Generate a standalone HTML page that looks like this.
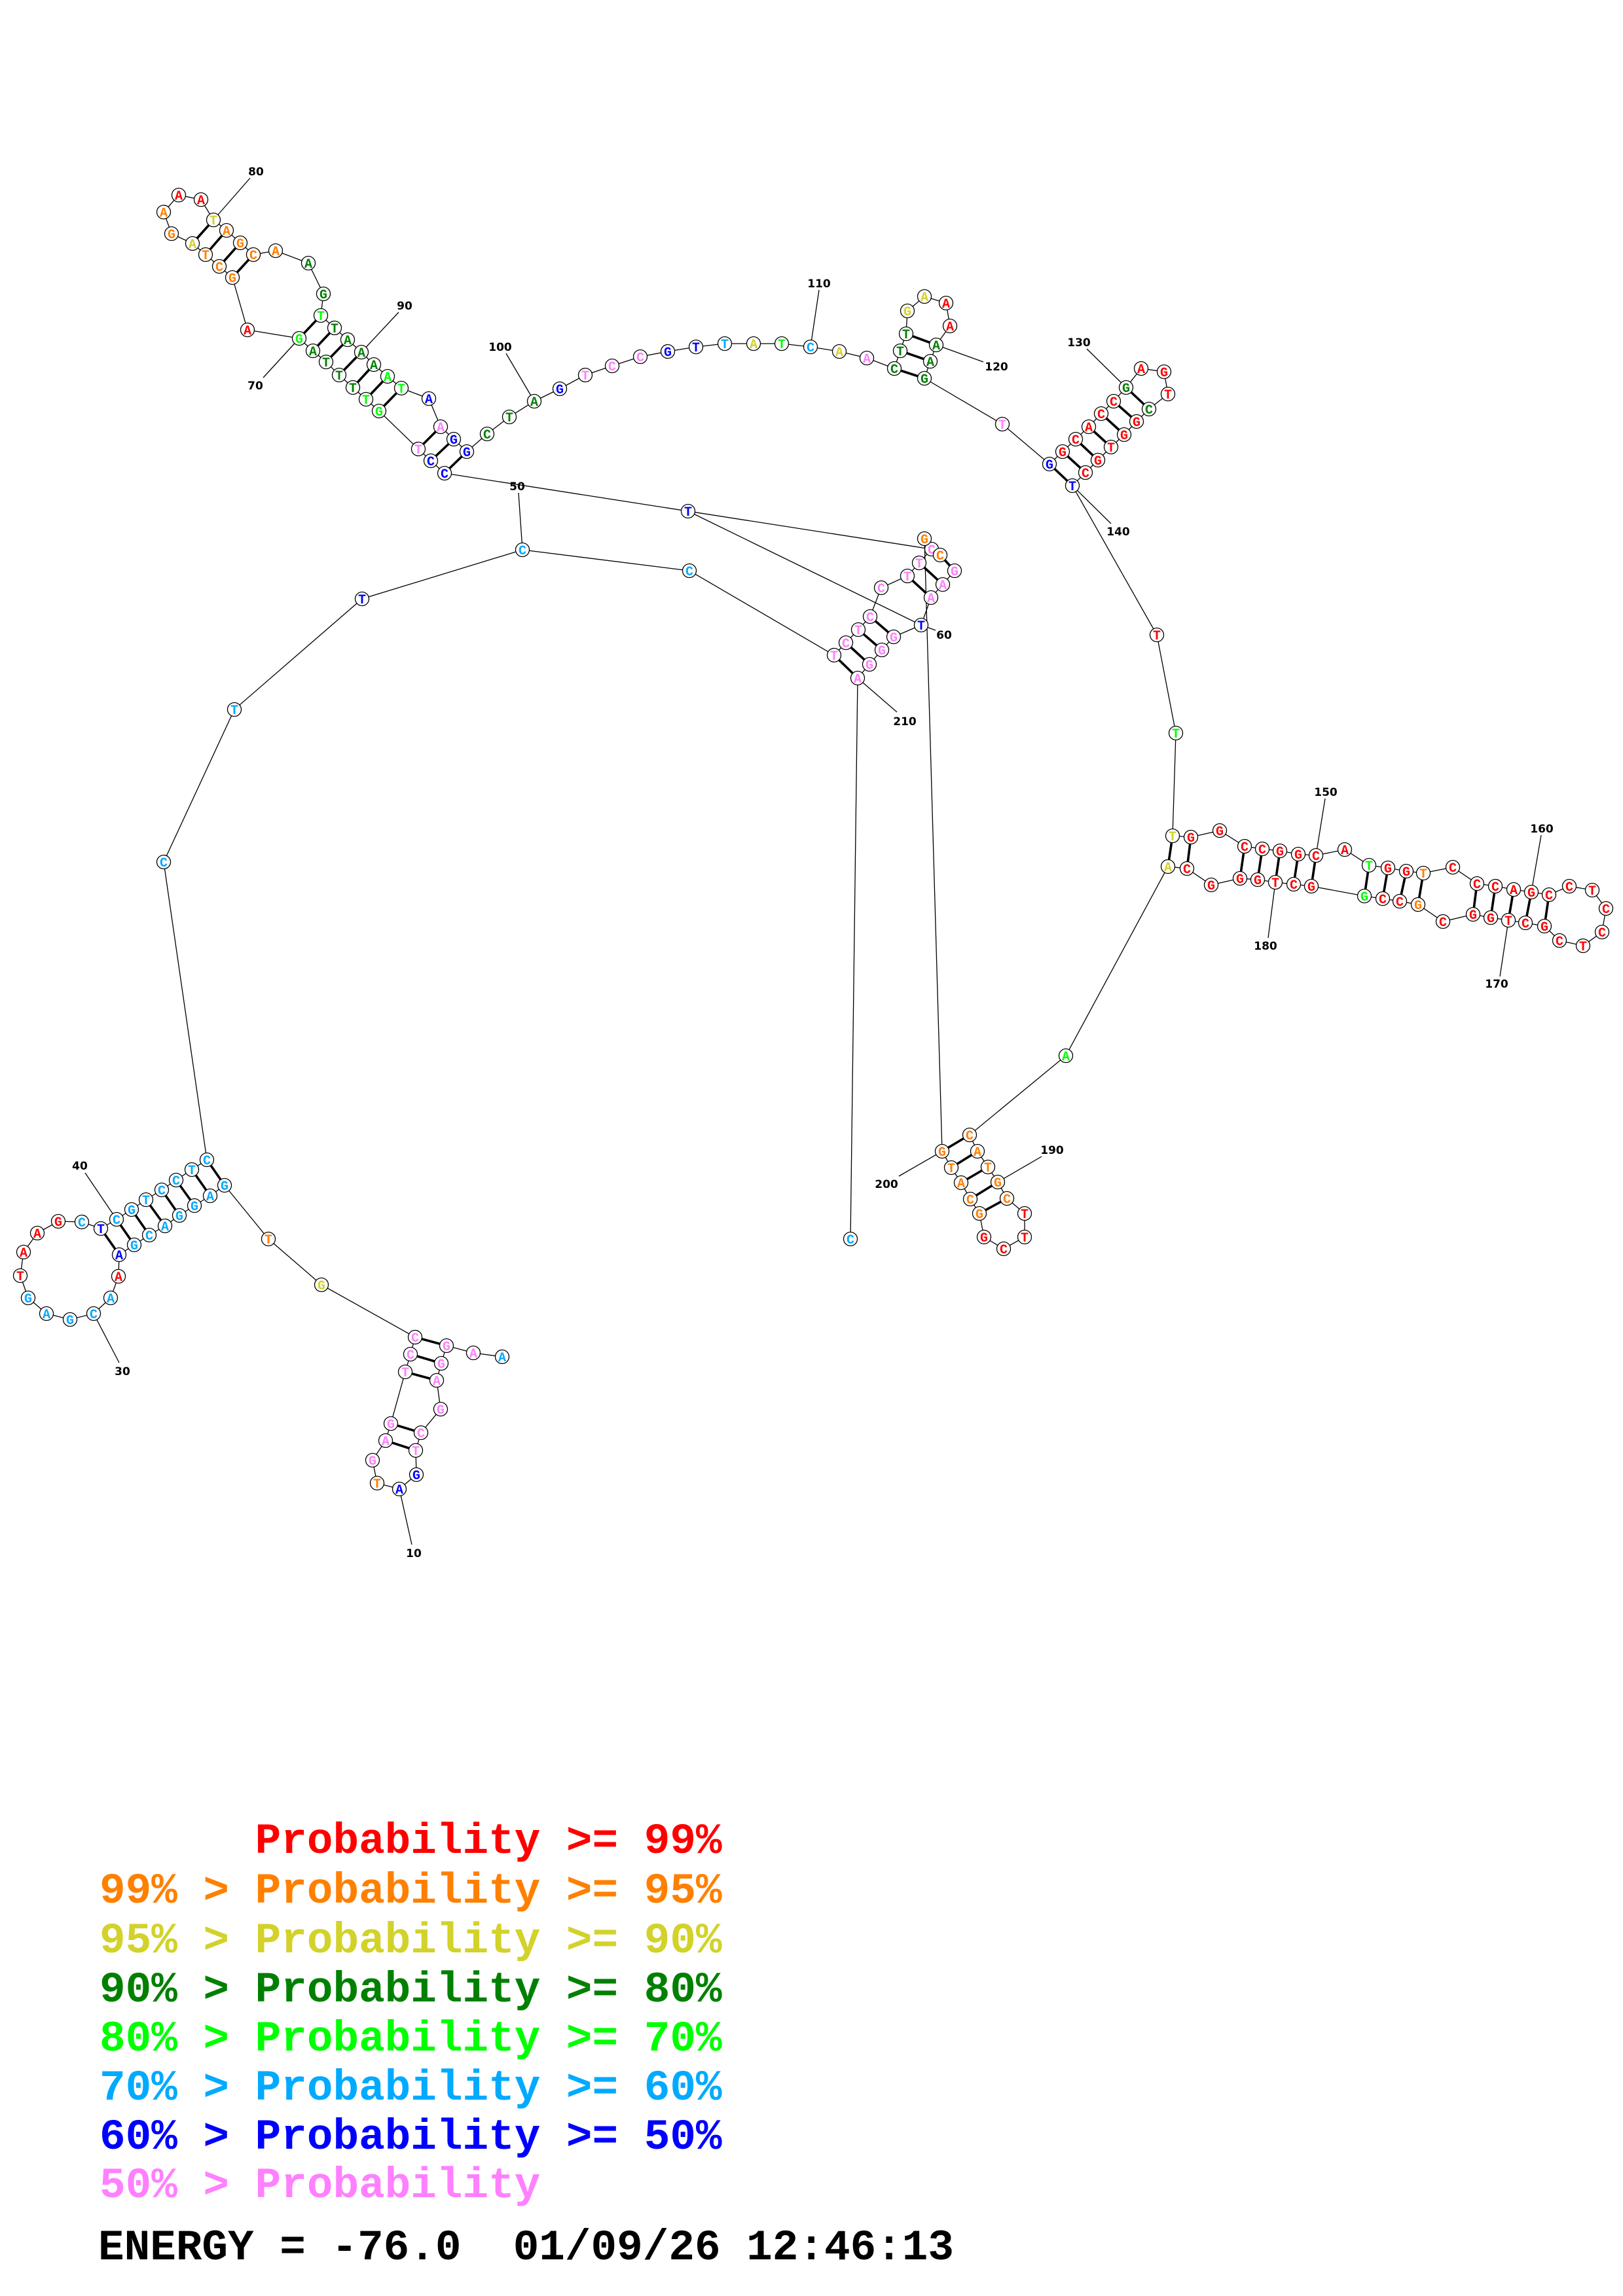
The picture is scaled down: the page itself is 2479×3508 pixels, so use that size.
<!DOCTYPE html>
<html><head><meta charset="utf-8"><style>
html,body{margin:0;padding:0;background:#fff}
svg{display:block}
.bb{fill:none;stroke:#000;stroke-width:1.3}
.pr{stroke:#000;stroke-width:3.6}
.nd circle{fill:#fff;stroke:#000;stroke-width:1.3}
.nd text{font-family:"Liberation Mono",monospace;font-weight:bold;font-size:20px;text-anchor:middle}
.R{fill:#ff0000}.O{fill:#ff8000}.Y{fill:#d2d22a}.D{fill:#008000}.L{fill:#00ff00}.C{fill:#00aaff}.B{fill:#0000ff}.P{fill:#ff80ff}
.n{font-family:"DejaVu Sans","Liberation Sans",sans-serif;font-weight:bold;font-size:17px;text-anchor:middle;fill:#000}
.lg{font-family:"Liberation Mono",monospace;font-weight:bold;font-size:66px}
</style></head><body>
<svg width="2479" height="3508" viewBox="0 0 2479 3508" xmlns="http://www.w3.org/2000/svg">
<rect width="2479" height="3508" fill="#fff"/>
<!-- backbone -->
<polyline class="bb" points="767,2073 723,2067 682,2056 674,2083 667,2109 673,2153 643,2189 635,2216 636,2253 610,2275 576,2266 569,2231 589,2201 597,2175 619,2096 627,2069 634,2043 491,1963 410,1893 343,1811 321,1827 297,1842 274,1857 252,1873 228,1887 205,1902 182,1917 181,1950 169,1983 143,2007 107,2016 71,2007 43,1983 31,1949 36,1913 57,1884 89,1866 125,1867 154,1877 178,1863 201,1848 223,1833 247,1818 269,1803 293,1787 316,1772 250,1317 358,1084 553,915 798,840 1053,872 1274,1001 1292,982 1311,962 1329,942 1346,898 1386,880 1404,860 1423,839 1436,848 1458,872 1440,893 1422,913 1407,955 1365,973 1347,993 1328,1015 1310,1036 1299,1893"/>
<polyline class="bb" points="679,723 658,704 639,686 579,628 559,610 539,592 518,573 498,553 478,536 457,517 378,504 355,424 335,407 314,389 294,372 262,357 250,324 273,298 307,305 326,336 346,352 367,371 387,389 421,383 471,402 494,449 490,482 511,501 531,519 552,538 571,557 592,575 613,593 655,609 673,652 693,671 713,690 744,663 778,637 816,613 855,594 894,573 935,559 978,545 1020,537 1063,530 1107,525 1151,525 1194,525 1238,530 1282,537 1324,547 1366,563 1375,536 1384,510 1386,475 1412,453 1445,463 1451,498 1430,527 1421,552 1412,578 1531,648 1603,709 1623,690 1643,671 1663,652 1682,632 1701,613 1720,592 1743,563 1778,568 1784,602 1755,625 1736,644 1717,664 1697,683 1677,703 1658,722 1638,742 1767,970 1796,1120 1791,1277 1819,1279 1863,1269 1901,1293 1928,1297 1955,1300 1983,1305 2010,1307 2054,1298 2091,1322 2120,1326 2148,1331 2174,1334 2219,1325 2256,1350 2284,1354 2312,1359 2339,1363 2366,1367 2397,1354 2432,1360 2453,1388 2447,1424 2418,1445 2382,1437 2359,1415 2330,1410 2304,1406 2277,1402 2250,1397 2204,1408 2166,1382 2138,1377 2112,1373 2084,1369 2003,1354 1976,1351 1948,1348 1921,1344 1894,1342 1850,1352 1813,1327 1784,1324 1628,1613 1481,1734 1493,1759 1509,1783 1524,1806 1538,1831 1565,1854 1565,1890 1533,1908 1503,1890 1496,1854 1482,1832 1468,1807 1453,1784 1439,1759 1412,823"/>
<line class="bb" x1="679" y1="723" x2="1416" y2="838"/>
<line class="bb" x1="1051" y1="781" x2="1407" y2="955"/>
<!-- label ticks -->
<g class="bb">
<line x1="610" y1="2275" x2="629" y2="2360"/>
<line x1="143" y1="2007" x2="182" y2="2082"/>
<line x1="178" y1="1863" x2="130" y2="1792"/>
<line x1="798" y1="840" x2="792" y2="753"/>
<line x1="1407" y1="955" x2="1429" y2="963"/>
<line x1="457" y1="517" x2="402" y2="577"/>
<line x1="326" y1="336" x2="382" y2="272"/>
<line x1="552" y1="538" x2="609" y2="477"/>
<line x1="816" y1="613" x2="773" y2="540"/>
<line x1="1238" y1="530" x2="1251" y2="443"/>
<line x1="1430" y1="527" x2="1502" y2="553"/>
<line x1="1720" y1="592" x2="1660" y2="533"/>
<line x1="1638" y1="742" x2="1697" y2="800"/>
<line x1="2010" y1="1307" x2="2024" y2="1220"/>
<line x1="2339" y1="1363" x2="2354" y2="1276"/>
<line x1="2304" y1="1406" x2="2291" y2="1492"/>
<line x1="1948" y1="1348" x2="1937" y2="1433"/>
<line x1="1524" y1="1806" x2="1591" y2="1767"/>
<line x1="1439" y1="1759" x2="1373" y2="1797"/>
<line x1="1310" y1="1036" x2="1370" y2="1088"/>
</g>
<!-- pairs -->
<g class="pr">
<line x1="682" y1="2056" x2="634" y2="2043"/><line x1="674" y1="2083" x2="627" y2="2069"/><line x1="667" y1="2109" x2="619" y2="2096"/><line x1="643" y1="2189" x2="597" y2="2175"/><line x1="635" y1="2216" x2="589" y2="2201"/>
<line x1="343" y1="1811" x2="316" y2="1772"/><line x1="321" y1="1827" x2="293" y2="1787"/><line x1="297" y1="1842" x2="269" y2="1803"/><line x1="274" y1="1857" x2="247" y2="1818"/><line x1="252" y1="1873" x2="223" y2="1833"/><line x1="228" y1="1887" x2="201" y2="1848"/><line x1="205" y1="1902" x2="178" y2="1863"/><line x1="182" y1="1917" x2="154" y2="1877"/>
<line x1="1274" y1="1001" x2="1310" y2="1036"/><line x1="1292" y1="982" x2="1328" y2="1015"/><line x1="1311" y1="962" x2="1347" y2="993"/><line x1="1329" y1="942" x2="1365" y2="973"/>
<line x1="1404" y1="860" x2="1440" y2="893"/><line x1="1386" y1="880" x2="1422" y2="913"/><line x1="1436" y1="848" x2="1458" y2="872"/>
<line x1="679" y1="723" x2="713" y2="690"/><line x1="658" y1="704" x2="693" y2="671"/><line x1="639" y1="686" x2="673" y2="652"/>
<line x1="579" y1="628" x2="613" y2="593"/><line x1="559" y1="610" x2="592" y2="575"/><line x1="539" y1="592" x2="571" y2="557"/><line x1="518" y1="573" x2="552" y2="538"/><line x1="498" y1="553" x2="531" y2="519"/><line x1="478" y1="536" x2="511" y2="501"/><line x1="457" y1="517" x2="490" y2="482"/>
<line x1="355" y1="424" x2="387" y2="389"/><line x1="335" y1="407" x2="367" y2="371"/><line x1="314" y1="389" x2="346" y2="352"/><line x1="294" y1="372" x2="326" y2="336"/>
<line x1="1366" y1="563" x2="1412" y2="578"/><line x1="1375" y1="536" x2="1421" y2="552"/><line x1="1384" y1="510" x2="1430" y2="527"/>
<line x1="1603" y1="709" x2="1638" y2="742"/><line x1="1623" y1="690" x2="1658" y2="722"/><line x1="1643" y1="671" x2="1677" y2="703"/><line x1="1663" y1="652" x2="1697" y2="683"/><line x1="1682" y1="632" x2="1717" y2="664"/><line x1="1701" y1="613" x2="1736" y2="644"/><line x1="1720" y1="592" x2="1755" y2="625"/>
<line x1="1791" y1="1277" x2="1784" y2="1324"/><line x1="1819" y1="1279" x2="1813" y2="1327"/><line x1="1901" y1="1293" x2="1894" y2="1342"/><line x1="1928" y1="1297" x2="1921" y2="1344"/><line x1="1955" y1="1300" x2="1948" y2="1348"/><line x1="1983" y1="1305" x2="1976" y2="1351"/><line x1="2010" y1="1307" x2="2003" y2="1354"/>
<line x1="2091" y1="1322" x2="2084" y2="1369"/><line x1="2120" y1="1326" x2="2112" y2="1373"/><line x1="2148" y1="1331" x2="2138" y2="1377"/><line x1="2174" y1="1334" x2="2166" y2="1382"/>
<line x1="2256" y1="1350" x2="2250" y2="1397"/><line x1="2284" y1="1354" x2="2277" y2="1402"/><line x1="2312" y1="1359" x2="2304" y2="1406"/><line x1="2339" y1="1363" x2="2330" y2="1410"/><line x1="2366" y1="1367" x2="2359" y2="1415"/>
<line x1="1481" y1="1734" x2="1439" y2="1759"/><line x1="1493" y1="1759" x2="1453" y2="1784"/><line x1="1509" y1="1783" x2="1468" y2="1807"/><line x1="1524" y1="1806" x2="1482" y2="1832"/><line x1="1538" y1="1831" x2="1496" y2="1854"/>
</g>
<!-- nucleotides -->
<g class="nd">
<g transform="translate(767,2073)"><circle r="10.5"/><text y="7" class="C">A</text></g>
<g transform="translate(723,2067)"><circle r="10.5"/><text y="7" class="P">A</text></g>
<g transform="translate(682,2056)"><circle r="10.5"/><text y="7" class="P">G</text></g>
<g transform="translate(674,2083)"><circle r="10.5"/><text y="7" class="P">G</text></g>
<g transform="translate(667,2109)"><circle r="10.5"/><text y="7" class="P">A</text></g>
<g transform="translate(673,2153)"><circle r="10.5"/><text y="7" class="P">G</text></g>
<g transform="translate(643,2189)"><circle r="10.5"/><text y="7" class="P">C</text></g>
<g transform="translate(635,2216)"><circle r="10.5"/><text y="7" class="P">T</text></g>
<g transform="translate(636,2253)"><circle r="10.5"/><text y="7" class="B">G</text></g>
<g transform="translate(610,2275)"><circle r="10.5"/><text y="7" class="B">A</text></g>
<g transform="translate(576,2266)"><circle r="10.5"/><text y="7" class="O">T</text></g>
<g transform="translate(569,2231)"><circle r="10.5"/><text y="7" class="P">G</text></g>
<g transform="translate(589,2201)"><circle r="10.5"/><text y="7" class="P">A</text></g>
<g transform="translate(597,2175)"><circle r="10.5"/><text y="7" class="P">G</text></g>
<g transform="translate(619,2096)"><circle r="10.5"/><text y="7" class="P">T</text></g>
<g transform="translate(627,2069)"><circle r="10.5"/><text y="7" class="P">C</text></g>
<g transform="translate(634,2043)"><circle r="10.5"/><text y="7" class="P">C</text></g>
<g transform="translate(491,1963)"><circle r="10.5"/><text y="7" class="Y">G</text></g>
<g transform="translate(410,1893)"><circle r="10.5"/><text y="7" class="O">T</text></g>
<g transform="translate(343,1811)"><circle r="10.5"/><text y="7" class="C">G</text></g>
<g transform="translate(321,1827)"><circle r="10.5"/><text y="7" class="C">A</text></g>
<g transform="translate(297,1842)"><circle r="10.5"/><text y="7" class="C">G</text></g>
<g transform="translate(274,1857)"><circle r="10.5"/><text y="7" class="C">G</text></g>
<g transform="translate(252,1873)"><circle r="10.5"/><text y="7" class="C">A</text></g>
<g transform="translate(228,1887)"><circle r="10.5"/><text y="7" class="C">C</text></g>
<g transform="translate(205,1902)"><circle r="10.5"/><text y="7" class="C">G</text></g>
<g transform="translate(182,1917)"><circle r="10.5"/><text y="7" class="B">A</text></g>
<g transform="translate(181,1950)"><circle r="10.5"/><text y="7" class="R">A</text></g>
<g transform="translate(169,1983)"><circle r="10.5"/><text y="7" class="C">A</text></g>
<g transform="translate(143,2007)"><circle r="10.5"/><text y="7" class="C">C</text></g>
<g transform="translate(107,2016)"><circle r="10.5"/><text y="7" class="C">G</text></g>
<g transform="translate(71,2007)"><circle r="10.5"/><text y="7" class="C">A</text></g>
<g transform="translate(43,1983)"><circle r="10.5"/><text y="7" class="C">G</text></g>
<g transform="translate(31,1949)"><circle r="10.5"/><text y="7" class="R">T</text></g>
<g transform="translate(36,1913)"><circle r="10.5"/><text y="7" class="R">A</text></g>
<g transform="translate(57,1884)"><circle r="10.5"/><text y="7" class="R">A</text></g>
<g transform="translate(89,1866)"><circle r="10.5"/><text y="7" class="R">G</text></g>
<g transform="translate(125,1867)"><circle r="10.5"/><text y="7" class="C">C</text></g>
<g transform="translate(154,1877)"><circle r="10.5"/><text y="7" class="B">T</text></g>
<g transform="translate(178,1863)"><circle r="10.5"/><text y="7" class="C">C</text></g>
<g transform="translate(201,1848)"><circle r="10.5"/><text y="7" class="C">G</text></g>
<g transform="translate(223,1833)"><circle r="10.5"/><text y="7" class="C">T</text></g>
<g transform="translate(247,1818)"><circle r="10.5"/><text y="7" class="C">C</text></g>
<g transform="translate(269,1803)"><circle r="10.5"/><text y="7" class="C">C</text></g>
<g transform="translate(293,1787)"><circle r="10.5"/><text y="7" class="C">T</text></g>
<g transform="translate(316,1772)"><circle r="10.5"/><text y="7" class="C">C</text></g>
<g transform="translate(250,1317)"><circle r="10.5"/><text y="7" class="C">C</text></g>
<g transform="translate(358,1084)"><circle r="10.5"/><text y="7" class="C">T</text></g>
<g transform="translate(553,915)"><circle r="10.5"/><text y="7" class="B">T</text></g>
<g transform="translate(798,840)"><circle r="10.5"/><text y="7" class="C">C</text></g>
<g transform="translate(1053,872)"><circle r="10.5"/><text y="7" class="C">C</text></g>
<g transform="translate(1051,781)"><circle r="10.5"/><text y="7" class="B">T</text></g>
<g transform="translate(1274,1001)"><circle r="10.5"/><text y="7" class="P">T</text></g>
<g transform="translate(1292,982)"><circle r="10.5"/><text y="7" class="P">C</text></g>
<g transform="translate(1311,962)"><circle r="10.5"/><text y="7" class="P">T</text></g>
<g transform="translate(1329,942)"><circle r="10.5"/><text y="7" class="P">C</text></g>
<g transform="translate(1346,898)"><circle r="10.5"/><text y="7" class="P">C</text></g>
<g transform="translate(1386,880)"><circle r="10.5"/><text y="7" class="P">T</text></g>
<g transform="translate(1404,860)"><circle r="10.5"/><text y="7" class="P">T</text></g>
<g transform="translate(1423,839)"><circle r="10.5"/><text y="7" class="P">C</text></g>
<g transform="translate(1412,823)"><circle r="10.5"/><text y="7" class="O">G</text></g>
<g transform="translate(1436,848)"><circle r="10.5"/><text y="7" class="O">C</text></g>
<g transform="translate(1458,872)"><circle r="10.5"/><text y="7" class="P">G</text></g>
<g transform="translate(1440,893)"><circle r="10.5"/><text y="7" class="P">A</text></g>
<g transform="translate(1422,913)"><circle r="10.5"/><text y="7" class="P">A</text></g>
<g transform="translate(1407,955)"><circle r="10.5"/><text y="7" class="B">T</text></g>
<g transform="translate(1365,973)"><circle r="10.5"/><text y="7" class="P">G</text></g>
<g transform="translate(1347,993)"><circle r="10.5"/><text y="7" class="P">G</text></g>
<g transform="translate(1328,1015)"><circle r="10.5"/><text y="7" class="P">G</text></g>
<g transform="translate(1310,1036)"><circle r="10.5"/><text y="7" class="P">A</text></g>
<g transform="translate(1299,1893)"><circle r="10.5"/><text y="7" class="C">C</text></g>
<g transform="translate(679,723)"><circle r="10.5"/><text y="7" class="B">C</text></g>
<g transform="translate(658,704)"><circle r="10.5"/><text y="7" class="B">C</text></g>
<g transform="translate(639,686)"><circle r="10.5"/><text y="7" class="P">T</text></g>
<g transform="translate(579,628)"><circle r="10.5"/><text y="7" class="L">G</text></g>
<g transform="translate(559,610)"><circle r="10.5"/><text y="7" class="L">T</text></g>
<g transform="translate(539,592)"><circle r="10.5"/><text y="7" class="D">T</text></g>
<g transform="translate(518,573)"><circle r="10.5"/><text y="7" class="D">T</text></g>
<g transform="translate(498,553)"><circle r="10.5"/><text y="7" class="D">T</text></g>
<g transform="translate(478,536)"><circle r="10.5"/><text y="7" class="D">A</text></g>
<g transform="translate(457,517)"><circle r="10.5"/><text y="7" class="L">G</text></g>
<g transform="translate(378,504)"><circle r="10.5"/><text y="7" class="R">A</text></g>
<g transform="translate(355,424)"><circle r="10.5"/><text y="7" class="O">G</text></g>
<g transform="translate(335,407)"><circle r="10.5"/><text y="7" class="O">C</text></g>
<g transform="translate(314,389)"><circle r="10.5"/><text y="7" class="O">T</text></g>
<g transform="translate(294,372)"><circle r="10.5"/><text y="7" class="Y">A</text></g>
<g transform="translate(262,357)"><circle r="10.5"/><text y="7" class="O">G</text></g>
<g transform="translate(250,324)"><circle r="10.5"/><text y="7" class="O">A</text></g>
<g transform="translate(273,298)"><circle r="10.5"/><text y="7" class="R">A</text></g>
<g transform="translate(307,305)"><circle r="10.5"/><text y="7" class="R">A</text></g>
<g transform="translate(326,336)"><circle r="10.5"/><text y="7" class="Y">T</text></g>
<g transform="translate(346,352)"><circle r="10.5"/><text y="7" class="O">A</text></g>
<g transform="translate(367,371)"><circle r="10.5"/><text y="7" class="O">G</text></g>
<g transform="translate(387,389)"><circle r="10.5"/><text y="7" class="O">C</text></g>
<g transform="translate(421,383)"><circle r="10.5"/><text y="7" class="O">A</text></g>
<g transform="translate(471,402)"><circle r="10.5"/><text y="7" class="D">A</text></g>
<g transform="translate(494,449)"><circle r="10.5"/><text y="7" class="D">G</text></g>
<g transform="translate(490,482)"><circle r="10.5"/><text y="7" class="L">T</text></g>
<g transform="translate(511,501)"><circle r="10.5"/><text y="7" class="D">T</text></g>
<g transform="translate(531,519)"><circle r="10.5"/><text y="7" class="D">A</text></g>
<g transform="translate(552,538)"><circle r="10.5"/><text y="7" class="D">A</text></g>
<g transform="translate(571,557)"><circle r="10.5"/><text y="7" class="D">A</text></g>
<g transform="translate(592,575)"><circle r="10.5"/><text y="7" class="L">A</text></g>
<g transform="translate(613,593)"><circle r="10.5"/><text y="7" class="L">T</text></g>
<g transform="translate(655,609)"><circle r="10.5"/><text y="7" class="B">A</text></g>
<g transform="translate(673,652)"><circle r="10.5"/><text y="7" class="P">A</text></g>
<g transform="translate(693,671)"><circle r="10.5"/><text y="7" class="B">G</text></g>
<g transform="translate(713,690)"><circle r="10.5"/><text y="7" class="B">G</text></g>
<g transform="translate(744,663)"><circle r="10.5"/><text y="7" class="D">C</text></g>
<g transform="translate(778,637)"><circle r="10.5"/><text y="7" class="D">T</text></g>
<g transform="translate(816,613)"><circle r="10.5"/><text y="7" class="D">A</text></g>
<g transform="translate(855,594)"><circle r="10.5"/><text y="7" class="B">G</text></g>
<g transform="translate(894,573)"><circle r="10.5"/><text y="7" class="P">T</text></g>
<g transform="translate(935,559)"><circle r="10.5"/><text y="7" class="P">C</text></g>
<g transform="translate(978,545)"><circle r="10.5"/><text y="7" class="P">C</text></g>
<g transform="translate(1020,537)"><circle r="10.5"/><text y="7" class="B">G</text></g>
<g transform="translate(1063,530)"><circle r="10.5"/><text y="7" class="B">T</text></g>
<g transform="translate(1107,525)"><circle r="10.5"/><text y="7" class="C">T</text></g>
<g transform="translate(1151,525)"><circle r="10.5"/><text y="7" class="Y">A</text></g>
<g transform="translate(1194,525)"><circle r="10.5"/><text y="7" class="L">T</text></g>
<g transform="translate(1238,530)"><circle r="10.5"/><text y="7" class="C">C</text></g>
<g transform="translate(1282,537)"><circle r="10.5"/><text y="7" class="Y">A</text></g>
<g transform="translate(1324,547)"><circle r="10.5"/><text y="7" class="P">A</text></g>
<g transform="translate(1366,563)"><circle r="10.5"/><text y="7" class="D">C</text></g>
<g transform="translate(1375,536)"><circle r="10.5"/><text y="7" class="D">T</text></g>
<g transform="translate(1384,510)"><circle r="10.5"/><text y="7" class="D">T</text></g>
<g transform="translate(1386,475)"><circle r="10.5"/><text y="7" class="Y">G</text></g>
<g transform="translate(1412,453)"><circle r="10.5"/><text y="7" class="Y">A</text></g>
<g transform="translate(1445,463)"><circle r="10.5"/><text y="7" class="R">A</text></g>
<g transform="translate(1451,498)"><circle r="10.5"/><text y="7" class="R">A</text></g>
<g transform="translate(1430,527)"><circle r="10.5"/><text y="7" class="D">A</text></g>
<g transform="translate(1421,552)"><circle r="10.5"/><text y="7" class="D">A</text></g>
<g transform="translate(1412,578)"><circle r="10.5"/><text y="7" class="D">G</text></g>
<g transform="translate(1531,648)"><circle r="10.5"/><text y="7" class="P">T</text></g>
<g transform="translate(1603,709)"><circle r="10.5"/><text y="7" class="B">G</text></g>
<g transform="translate(1623,690)"><circle r="10.5"/><text y="7" class="R">G</text></g>
<g transform="translate(1643,671)"><circle r="10.5"/><text y="7" class="R">C</text></g>
<g transform="translate(1663,652)"><circle r="10.5"/><text y="7" class="R">A</text></g>
<g transform="translate(1682,632)"><circle r="10.5"/><text y="7" class="R">C</text></g>
<g transform="translate(1701,613)"><circle r="10.5"/><text y="7" class="R">C</text></g>
<g transform="translate(1720,592)"><circle r="10.5"/><text y="7" class="D">G</text></g>
<g transform="translate(1743,563)"><circle r="10.5"/><text y="7" class="R">A</text></g>
<g transform="translate(1778,568)"><circle r="10.5"/><text y="7" class="R">G</text></g>
<g transform="translate(1784,602)"><circle r="10.5"/><text y="7" class="R">T</text></g>
<g transform="translate(1755,625)"><circle r="10.5"/><text y="7" class="D">C</text></g>
<g transform="translate(1736,644)"><circle r="10.5"/><text y="7" class="R">G</text></g>
<g transform="translate(1717,664)"><circle r="10.5"/><text y="7" class="R">G</text></g>
<g transform="translate(1697,683)"><circle r="10.5"/><text y="7" class="R">T</text></g>
<g transform="translate(1677,703)"><circle r="10.5"/><text y="7" class="R">G</text></g>
<g transform="translate(1658,722)"><circle r="10.5"/><text y="7" class="R">C</text></g>
<g transform="translate(1638,742)"><circle r="10.5"/><text y="7" class="B">T</text></g>
<g transform="translate(1767,970)"><circle r="10.5"/><text y="7" class="R">T</text></g>
<g transform="translate(1796,1120)"><circle r="10.5"/><text y="7" class="L">T</text></g>
<g transform="translate(1791,1277)"><circle r="10.5"/><text y="7" class="Y">T</text></g>
<g transform="translate(1819,1279)"><circle r="10.5"/><text y="7" class="R">G</text></g>
<g transform="translate(1863,1269)"><circle r="10.5"/><text y="7" class="R">G</text></g>
<g transform="translate(1901,1293)"><circle r="10.5"/><text y="7" class="R">C</text></g>
<g transform="translate(1928,1297)"><circle r="10.5"/><text y="7" class="R">C</text></g>
<g transform="translate(1955,1300)"><circle r="10.5"/><text y="7" class="R">G</text></g>
<g transform="translate(1983,1305)"><circle r="10.5"/><text y="7" class="R">G</text></g>
<g transform="translate(2010,1307)"><circle r="10.5"/><text y="7" class="R">C</text></g>
<g transform="translate(2054,1298)"><circle r="10.5"/><text y="7" class="R">A</text></g>
<g transform="translate(2091,1322)"><circle r="10.5"/><text y="7" class="L">T</text></g>
<g transform="translate(2120,1326)"><circle r="10.5"/><text y="7" class="R">G</text></g>
<g transform="translate(2148,1331)"><circle r="10.5"/><text y="7" class="R">G</text></g>
<g transform="translate(2174,1334)"><circle r="10.5"/><text y="7" class="O">T</text></g>
<g transform="translate(2219,1325)"><circle r="10.5"/><text y="7" class="R">C</text></g>
<g transform="translate(2256,1350)"><circle r="10.5"/><text y="7" class="R">C</text></g>
<g transform="translate(2284,1354)"><circle r="10.5"/><text y="7" class="R">C</text></g>
<g transform="translate(2312,1359)"><circle r="10.5"/><text y="7" class="R">A</text></g>
<g transform="translate(2339,1363)"><circle r="10.5"/><text y="7" class="R">G</text></g>
<g transform="translate(2366,1367)"><circle r="10.5"/><text y="7" class="R">C</text></g>
<g transform="translate(2397,1354)"><circle r="10.5"/><text y="7" class="R">C</text></g>
<g transform="translate(2432,1360)"><circle r="10.5"/><text y="7" class="R">T</text></g>
<g transform="translate(2453,1388)"><circle r="10.5"/><text y="7" class="R">C</text></g>
<g transform="translate(2447,1424)"><circle r="10.5"/><text y="7" class="R">C</text></g>
<g transform="translate(2418,1445)"><circle r="10.5"/><text y="7" class="R">T</text></g>
<g transform="translate(2382,1437)"><circle r="10.5"/><text y="7" class="R">C</text></g>
<g transform="translate(2359,1415)"><circle r="10.5"/><text y="7" class="R">G</text></g>
<g transform="translate(2330,1410)"><circle r="10.5"/><text y="7" class="R">C</text></g>
<g transform="translate(2304,1406)"><circle r="10.5"/><text y="7" class="R">T</text></g>
<g transform="translate(2277,1402)"><circle r="10.5"/><text y="7" class="R">G</text></g>
<g transform="translate(2250,1397)"><circle r="10.5"/><text y="7" class="R">G</text></g>
<g transform="translate(2204,1408)"><circle r="10.5"/><text y="7" class="R">C</text></g>
<g transform="translate(2166,1382)"><circle r="10.5"/><text y="7" class="O">G</text></g>
<g transform="translate(2138,1377)"><circle r="10.5"/><text y="7" class="R">C</text></g>
<g transform="translate(2112,1373)"><circle r="10.5"/><text y="7" class="R">C</text></g>
<g transform="translate(2084,1369)"><circle r="10.5"/><text y="7" class="L">G</text></g>
<g transform="translate(2003,1354)"><circle r="10.5"/><text y="7" class="R">G</text></g>
<g transform="translate(1976,1351)"><circle r="10.5"/><text y="7" class="R">C</text></g>
<g transform="translate(1948,1348)"><circle r="10.5"/><text y="7" class="R">T</text></g>
<g transform="translate(1921,1344)"><circle r="10.5"/><text y="7" class="R">G</text></g>
<g transform="translate(1894,1342)"><circle r="10.5"/><text y="7" class="R">G</text></g>
<g transform="translate(1850,1352)"><circle r="10.5"/><text y="7" class="R">G</text></g>
<g transform="translate(1813,1327)"><circle r="10.5"/><text y="7" class="R">C</text></g>
<g transform="translate(1784,1324)"><circle r="10.5"/><text y="7" class="Y">A</text></g>
<g transform="translate(1628,1613)"><circle r="10.5"/><text y="7" class="L">A</text></g>
<g transform="translate(1481,1734)"><circle r="10.5"/><text y="7" class="O">C</text></g>
<g transform="translate(1493,1759)"><circle r="10.5"/><text y="7" class="O">A</text></g>
<g transform="translate(1509,1783)"><circle r="10.5"/><text y="7" class="O">T</text></g>
<g transform="translate(1524,1806)"><circle r="10.5"/><text y="7" class="O">G</text></g>
<g transform="translate(1538,1831)"><circle r="10.5"/><text y="7" class="O">C</text></g>
<g transform="translate(1565,1854)"><circle r="10.5"/><text y="7" class="R">T</text></g>
<g transform="translate(1565,1890)"><circle r="10.5"/><text y="7" class="R">T</text></g>
<g transform="translate(1533,1908)"><circle r="10.5"/><text y="7" class="R">C</text></g>
<g transform="translate(1503,1890)"><circle r="10.5"/><text y="7" class="R">G</text></g>
<g transform="translate(1496,1854)"><circle r="10.5"/><text y="7" class="O">G</text></g>
<g transform="translate(1482,1832)"><circle r="10.5"/><text y="7" class="O">C</text></g>
<g transform="translate(1468,1807)"><circle r="10.5"/><text y="7" class="O">A</text></g>
<g transform="translate(1453,1784)"><circle r="10.5"/><text y="7" class="O">T</text></g>
<g transform="translate(1439,1759)"><circle r="10.5"/><text y="7" class="O">G</text></g>
</g>
<!-- number labels -->
<g class="n">
<text x="632" y="2379">10</text>
<text x="187" y="2101">30</text>
<text x="122" y="1787">40</text>
<text x="790" y="749">50</text>
<text x="1442" y="976">60</text>
<text x="390" y="595">70</text>
<text x="391" y="268">80</text>
<text x="618" y="473">90</text>
<text x="764" y="536">100</text>
<text x="1251" y="439">110</text>
<text x="1522" y="566">120</text>
<text x="1648" y="529">130</text>
<text x="1708" y="818">140</text>
<text x="2025" y="1216">150</text>
<text x="2355" y="1272">160</text>
<text x="2286" y="1509">170</text>
<text x="1933" y="1451">180</text>
<text x="1607" y="1763">190</text>
<text x="1354" y="1815">200</text>
<text x="1382" y="1108">210</text>
</g>
<!-- legend -->
<g class="lg" xml:space="preserve">
<text x="152" y="2831" fill="#ff0000" xml:space="preserve">      Probability &gt;= 99%</text>
<text x="152" y="2907" fill="#ff8000" xml:space="preserve">99% &gt; Probability &gt;= 95%</text>
<text x="152" y="2983" fill="#d2d22a" xml:space="preserve">95% &gt; Probability &gt;= 90%</text>
<text x="152" y="3058" fill="#008000" xml:space="preserve">90% &gt; Probability &gt;= 80%</text>
<text x="152" y="3133" fill="#00ff00" xml:space="preserve">80% &gt; Probability &gt;= 70%</text>
<text x="152" y="3208" fill="#00aaff" xml:space="preserve">70% &gt; Probability &gt;= 60%</text>
<text x="152" y="3283" fill="#0000ff" xml:space="preserve">60% &gt; Probability &gt;= 50%</text>
<text x="152" y="3357" fill="#ff80ff" xml:space="preserve">50% &gt; Probability</text>
<text x="150" y="3452" fill="#000000" xml:space="preserve">ENERGY = -76.0  01/09/26 12:46:13</text>
</g>
</svg>
</body></html>
